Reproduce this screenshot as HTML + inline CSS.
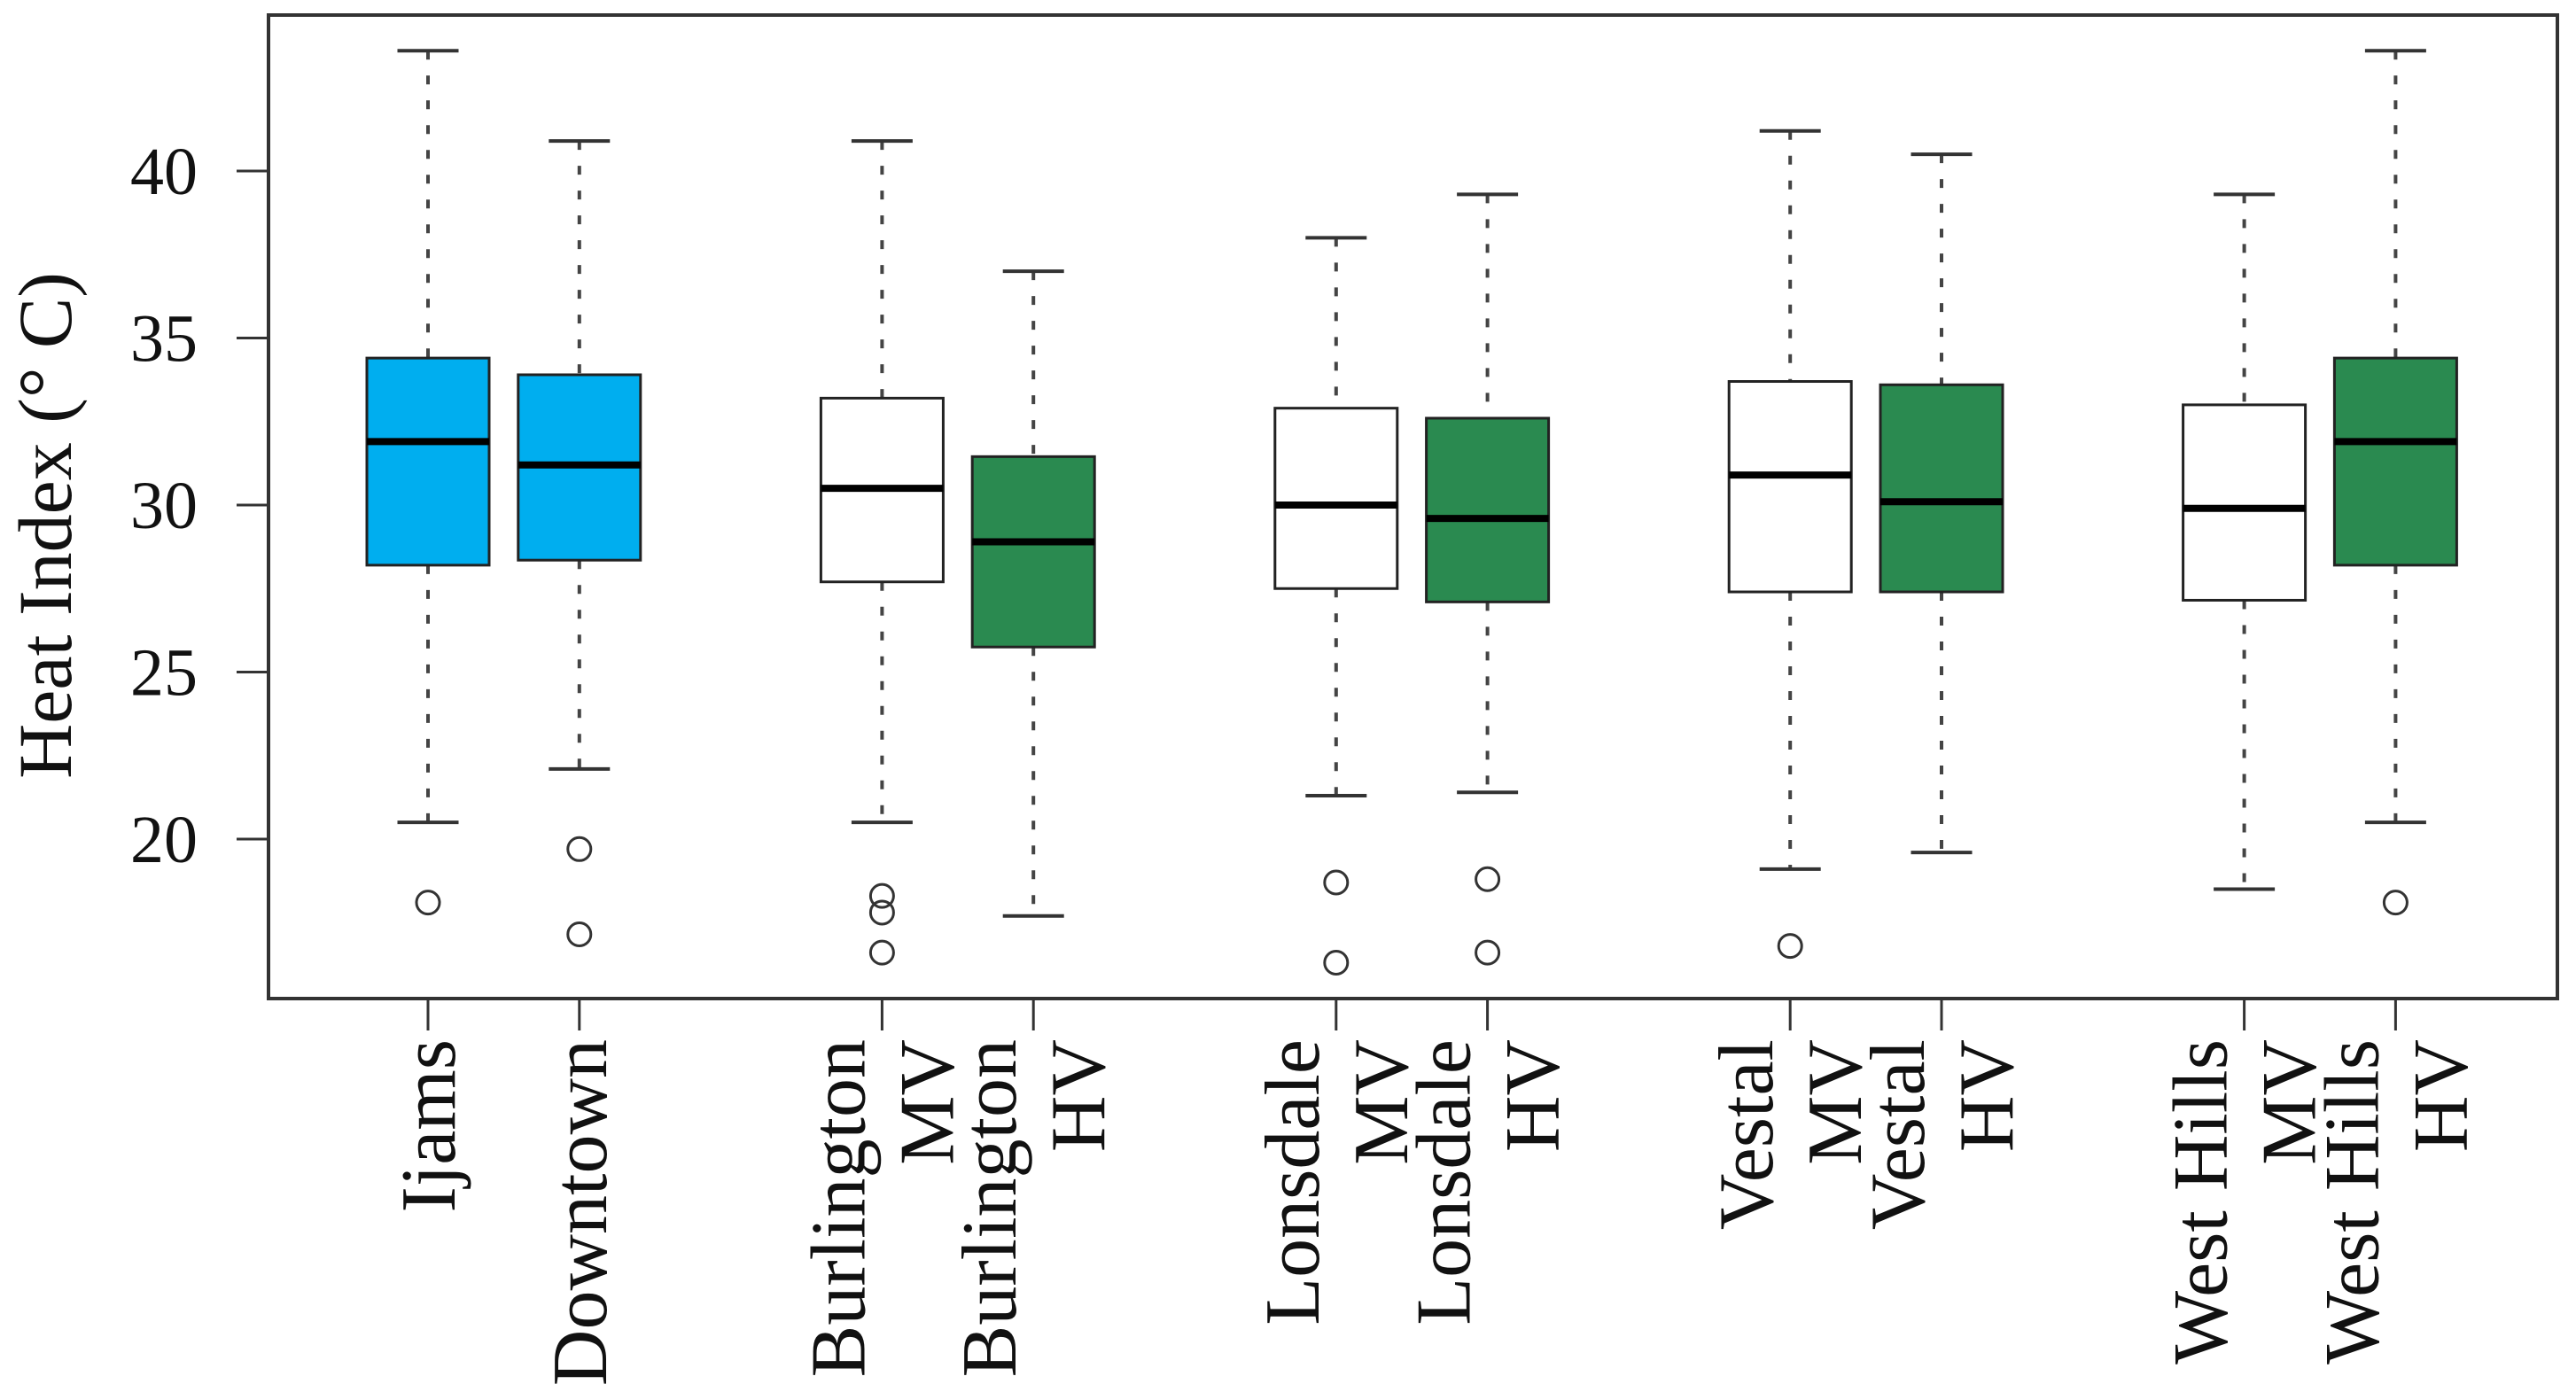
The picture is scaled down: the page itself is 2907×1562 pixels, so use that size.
<!DOCTYPE html>
<html><head><meta charset="utf-8"><style>
html,body{margin:0;padding:0;background:#fff;}
svg{display:block;font-family:"Liberation Serif",serif;}
</style></head><body>
<svg id="chart" width="2907" height="1562" viewBox="0 0 2907 1562"></svg>
<script>
const categories = ["Ijams","Downtown","Burlington MV","Burlington HV","Lonsdale MV","Lonsdale HV","Vestal MV","Vestal HV","West Hills MV","West Hills HV"];
const slots = [1,2,4,5,7,8,10,11,13,14];
const upperWhisker = [43.6,40.9,40.9,37.0,38.0,39.3,41.2,40.5,39.3,43.6];
const q3Values = [34.4,33.9,33.2,31.45,32.9,32.6,33.7,33.6,33.0,34.4];
const medianValues = [31.9,31.2,30.5,28.9,30.0,29.6,30.9,30.1,29.9,31.9];
const q1Values = [28.2,28.35,27.7,25.75,27.5,27.1,27.4,27.4,27.15,28.2];
const lowerWhisker = [20.5,22.1,20.5,17.7,21.3,21.4,19.1,19.6,18.5,20.5];
const outliers = [[18.1],[19.7,17.15],[18.3,17.8,16.6],[],[18.7,16.3],[18.8,16.6],[16.8],[],[],[18.1]];
const fillColors = ["#00aeef","#00aeef","#ffffff","#2a8a50","#ffffff","#2a8a50","#ffffff","#2a8a50","#ffffff","#2a8a50"];
const yTicks = [20,25,30,35,40];

const NS="http://www.w3.org/2000/svg";
const svg=document.getElementById('chart');
const L=303,R=2886,T=17,B=1127;
function yScale(v){return 193+(40-v)*37.7;}
function xScale(s){return 483+(s-1)*170.8;}
function mk(tag,attrs,parent){const e=document.createElementNS(NS,tag);for(const k in attrs)e.setAttribute(k,attrs[k]);(parent||svg).appendChild(e);return e;}

const frame=mk('rect',{x:L,y:T,width:R-L,height:B-T,fill:'none',stroke:'#333',"stroke-width":4});



yTicks.forEach(t=>{
  const y=yScale(t);
  const tk=mk('line',{x1:L-36,x2:L,y1:y,y2:y,stroke:'#333',"stroke-width":3});
  
  
  const tx=mk('text',{x:L-80,y:y+26,"text-anchor":'end',"font-size":76,fill:'#111'});
  tx.textContent=t;
  
  
});
const yt=mk('text',{x:0,y:0,"text-anchor":'middle',"font-size":86,fill:'#111',transform:'translate(80,593) rotate(-90)'});
yt.textContent='Heat Index (° C)';



const bw=138, cw=69;
categories.forEach((c,i)=>{
  const x=xScale(slots[i]);
  const g=mk('g',{});
  
  
  const yu=yScale(upperWhisker[i]),y3=yScale(q3Values[i]),ym=yScale(medianValues[i]),y1=yScale(q1Values[i]),yl=yScale(lowerWhisker[i]);
  mk('line',{x1:x,x2:x,y1:yu,y2:y3,stroke:'#444',"stroke-width":4,"stroke-dasharray":'10 18'},g);
  mk('line',{x1:x,x2:x,y1:y1,y2:yl,stroke:'#444',"stroke-width":4,"stroke-dasharray":'10 18'},g);
  mk('line',{x1:x-cw/2,x2:x+cw/2,y1:yu,y2:yu,stroke:'#333',"stroke-width":4},g);
  mk('line',{x1:x-cw/2,x2:x+cw/2,y1:yl,y2:yl,stroke:'#333',"stroke-width":4},g);
  mk('rect',{x:x-bw/2,y:y3,width:bw,height:y1-y3,fill:fillColors[i],stroke:'#222',"stroke-width":3},g);
  mk('line',{x1:x-bw/2,x2:x+bw/2,y1:ym,y2:ym,stroke:'#000',"stroke-width":8},g);
  outliers[i].forEach(o=>{
    const ci=mk('circle',{cx:x,cy:yScale(o),r:13,fill:'none',stroke:'#333',"stroke-width":3},g);
    
    
  });
  const tk=mk('line',{x1:x,x2:x,y1:B,y2:B+36,stroke:'#333',"stroke-width":3});
  
  
  const parts=c.split(' ');
  const last=parts.pop(), first=parts.join(' ');
  const t=mk('text',{"font-size":88,fill:'#111',"text-anchor":'end',transform:'translate('+x+','+(B+46)+') rotate(-90)'});
  
  
  if(first){
    const a=mk('tspan',{x:0,y:-20},t);a.textContent=first;
    const b=mk('tspan',{x:0,y:80},t);b.textContent=last;
  } else {
    const a=mk('tspan',{x:0,y:30},t);a.textContent=last;
  }
});
</script>
</body></html>
